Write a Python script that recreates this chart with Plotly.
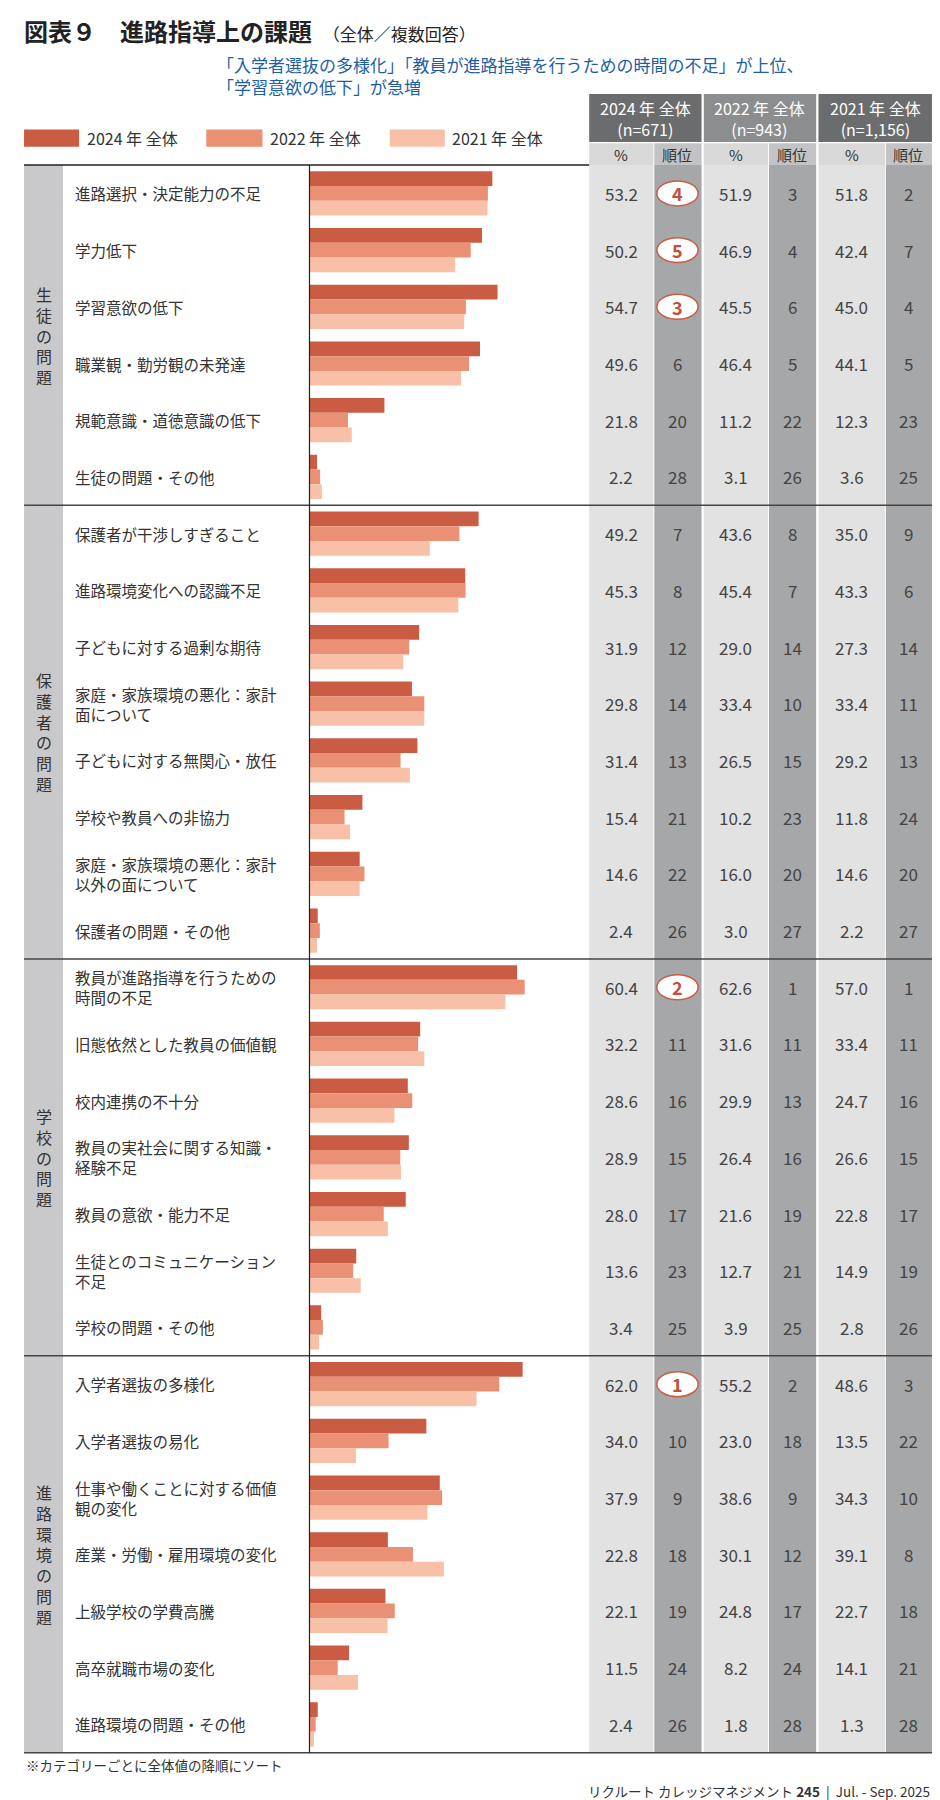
import plotly.graph_objects as go

groups = ["生徒の問題", "保護者の問題", "学校の問題", "進路環境の問題"]
group_sizes = [6, 8, 7, 7]
labels = [
    "進路選択・決定能力の不足", "学力低下", "学習意欲の低下", "職業観・勤労観の未発達",
    "規範意識・道徳意識の低下", "生徒の問題・その他",
    "保護者が干渉しすぎること", "進路環境変化への認識不足", "子どもに対する過剰な期待",
    "家庭・家族環境の悪化：家計<br>面について", "子どもに対する無関心・放任", "学校や教員への非協力",
    "家庭・家族環境の悪化：家計<br>以外の面について", "保護者の問題・その他",
    "教員が進路指導を行うための<br>時間の不足", "旧態依然とした教員の価値観", "校内連携の不十分",
    "教員の実社会に関する知識・<br>経験不足", "教員の意欲・能力不足", "生徒とのコミュニケーション<br>不足",
    "学校の問題・その他",
    "入学者選抜の多様化", "入学者選抜の易化", "仕事や働くことに対する価値<br>観の変化",
    "産業・労働・雇用環境の変化", "上級学校の学費高騰", "高卒就職市場の変化", "進路環境の問題・その他",
]
v2024 = [53.2, 50.2, 54.7, 49.6, 21.8, 2.2, 49.2, 45.3, 31.9, 29.8, 31.4, 15.4, 14.6, 2.4,
         60.4, 32.2, 28.6, 28.9, 28.0, 13.6, 3.4, 62.0, 34.0, 37.9, 22.8, 22.1, 11.5, 2.4]
r2024 = [4, 5, 3, 6, 20, 28, 7, 8, 12, 14, 13, 21, 22, 26, 2, 11, 16, 15, 17, 23, 25, 1, 10, 9, 18, 19, 24, 26]
v2022 = [51.9, 46.9, 45.5, 46.4, 11.2, 3.1, 43.6, 45.4, 29.0, 33.4, 26.5, 10.2, 16.0, 3.0,
         62.6, 31.6, 29.9, 26.4, 21.6, 12.7, 3.9, 55.2, 23.0, 38.6, 30.1, 24.8, 8.2, 1.8]
r2022 = [3, 4, 6, 5, 22, 26, 8, 7, 14, 10, 15, 23, 20, 27, 1, 11, 13, 16, 19, 21, 25, 2, 18, 9, 12, 17, 24, 28]
v2021 = [51.8, 42.4, 45.0, 44.1, 12.3, 3.6, 35.0, 43.3, 27.3, 33.4, 29.2, 11.8, 14.6, 2.2,
         57.0, 33.4, 24.7, 26.6, 22.8, 14.9, 2.8, 48.6, 13.5, 34.3, 39.1, 22.7, 14.1, 1.3]
r2021 = [2, 7, 4, 5, 23, 25, 9, 6, 14, 11, 13, 24, 20, 27, 1, 11, 16, 15, 17, 19, 26, 3, 22, 10, 8, 18, 21, 28]
years = ["2024 年 全体", "2022 年 全体", "2021 年 全体"]
ns = ["(n=671)", "(n=943)", "(n=1,156)"]
colors = ["#c95c42", "#ea9075", "#f8c0a6"]

S = 940 / 820.0
def px(xd): return xd * S / 940
def py(yd): return 1 - yd * S / 1800

N = len(labels)
rows = list(range(N))
top, bot = 137, 1522
FONT = "Noto Sans CJK JP"

fig = go.Figure()
for vals, name, c in zip([v2024, v2022, v2021], years, colors):
    fig.add_trace(go.Bar(y=rows, x=vals, orientation="h", name=name, marker_color=c,
                         marker_line_width=0, showlegend=False))

shapes, ann = [], []
def A(**kw):
    kw.setdefault("xanchor", "center")
    kw.setdefault("yanchor", "middle")
    kw.setdefault("showarrow", False)
    ann.append(kw)

cols = [(507, 563, 605), (607, 663, 705), (707, 765, 806)]
head_col = ["#6b6c6e", "#8c8d8f", "#6b6c6e"]
for (a, b, c), hc in zip(cols, head_col):
    shapes.append(dict(type="rect", xref="paper", yref="paper", x0=px(a), x1=px(c), y0=py(117), y1=py(75), fillcolor=hc, line_width=0, layer="below"))
    shapes.append(dict(type="rect", xref="paper", yref="paper", x0=px(a), x1=px(b), y0=py(137), y1=py(118), fillcolor="#d9d9da", line_width=0, layer="below"))
    shapes.append(dict(type="rect", xref="paper", yref="paper", x0=px(b) + 0.001, x1=px(c), y0=py(137), y1=py(118), fillcolor="#c3c3c5", line_width=0, layer="below"))
    shapes.append(dict(type="rect", xref="paper", yref="paper", x0=px(a), x1=px(b), y0=py(bot), y1=py(137), fillcolor="#e2e2e3", line_width=0, layer="below"))
    shapes.append(dict(type="rect", xref="paper", yref="paper", x0=px(b) + 0.001, x1=px(c), y0=py(bot), y1=py(137), fillcolor="#a6a7a9", line_width=0, layer="below"))
for (a, b, c), yr, n in zip(cols, years, ns):
    A(xref="paper", yref="paper", x=px((a + c) / 2), y=py(96), text=yr + "<br>" + n,
      font=dict(size=16, color="white", family=FONT), align="center")
    A(xref="paper", yref="paper", x=px((a + b) / 2), y=py(127.5), text="%", font=dict(size=15, color="#333", family=FONT))
    A(xref="paper", yref="paper", x=px((b + c) / 2), y=py(127.5), text="順位", font=dict(size=15, color="#333", family=FONT))

start = 0
shapes.append(dict(type="line", xref="paper", yref="paper", x0=px(14), x1=px(507), y0=py(137), y1=py(137), line=dict(color="#222", width=1.5)))
for g, size in zip(groups, group_sizes):
    y0, y1 = start - 0.5, start + size - 0.5
    shapes.append(dict(type="rect", xref="paper", yref="y", x0=px(14), x1=px(48), y0=y0, y1=y1, fillcolor="#c9c9cb", line_width=0, layer="below"))
    A(xref="paper", yref="y", x=px(31), y=(y0 + y1) / 2, text="<br>".join(g),
      font=dict(size=16, color="#333", family=FONT))
    if start + size < N:
        shapes.append(dict(type="line", xref="paper", yref="y", x0=px(14), x1=px(806), y0=y1, y1=y1, line=dict(color="#444", width=1.5)))
    start += size
shapes.append(dict(type="line", xref="paper", yref="paper", x0=px(14), x1=px(806), y0=py(bot), y1=py(bot), line=dict(color="#444", width=1.5)))
shapes.append(dict(type="line", xref="paper", yref="paper", x0=px(263), x1=px(263), y0=py(bot), y1=py(137), line=dict(color="#222", width=1.2)))

for i in rows:
    A(xref="paper", yref="y", x=px(57), y=i, text=labels[i], xanchor="left", align="left",
      font=dict(size=15.5, color="#333", family=FONT))
    for (a, b, c), v, r in zip(cols, [v2024, v2022, v2021], [r2024, r2022, r2021]):
        A(xref="paper", yref="y", x=px((a + b) / 2), y=i, text=f"{v[i]:.1f}",
          font=dict(size=17, color="#444", family=FONT))
        is_top = (v is v2024 and r[i] <= 5)
        if is_top:
            cx = (b + c) / 2
            shapes.append(dict(type="circle", xref="paper", yref="y", x0=px(cx - 18), x1=px(cx + 18), y0=i - 0.22, y1=i + 0.22,
                               fillcolor="white", line=dict(color="#c95c42", width=1.5)))
        A(xref="paper", yref="y", x=px((b + c) / 2), y=i, text=f"<b>{r[i]}</b>" if is_top else str(r[i]),
          font=dict(size=18 if is_top else 17, color="#c0503a" if is_top else "#444", family=FONT))

for (x0, x1), yr, c in zip([(14, 62), (173, 222), (333, 381)], years, colors):
    shapes.append(dict(type="rect", xref="paper", yref="paper", x0=px(x0), x1=px(x1), y0=py(121), y1=py(106), fillcolor=c, line_width=0))
    A(xref="paper", yref="paper", x=px(x1 + 5), y=py(113.5), text=yr, xanchor="left",
      font=dict(size=16, color="#333", family=FONT))

A(xref="paper", yref="paper", x=px(12), y=py(20), xanchor="left",
  text="<b>図表９　進路指導上の課題</b>  <span style='font-size:17px'>（全体／複数回答）</span>",
  font=dict(size=24, color="#222", family=FONT))
A(xref="paper", yref="paper", x=px(181), y=py(59), xanchor="left", align="left",
  text="「入学者選抜の多様化」「教員が進路指導を行うための時間の不足」が上位、<br>「学習意欲の低下」が急増",
  font=dict(size=17, color="#1d5fa6", family=FONT))
A(xref="paper", yref="paper", x=px(14), y=py(1533), xanchor="left",
  text="※カテゴリーごとに全体値の降順にソート", font=dict(size=13.5, color="#333", family=FONT))
A(xref="paper", yref="paper", x=px(806), y=py(1555), xanchor="right",
  text="リクルート カレッジマネジメント <b>245</b>  |  Jul. - Sep. 2025",
  font=dict(size=13.5, color="#333", family=FONT))

fig.update_layout(
    width=940, height=1800, margin=dict(l=0, r=0, t=0, b=0),
    paper_bgcolor="white", plot_bgcolor="rgba(0,0,0,0)",
    barmode="group", bargap=0.22, bargroupgap=0,
    xaxis=dict(domain=[px(263), px(505)], range=[0, 80.7], visible=False, fixedrange=True),
    yaxis=dict(domain=[py(bot), py(top)], range=[N - 0.5, -0.5], visible=False, fixedrange=True),
    shapes=shapes, annotations=ann, showlegend=False,
)
fig.write_html("out.html")
